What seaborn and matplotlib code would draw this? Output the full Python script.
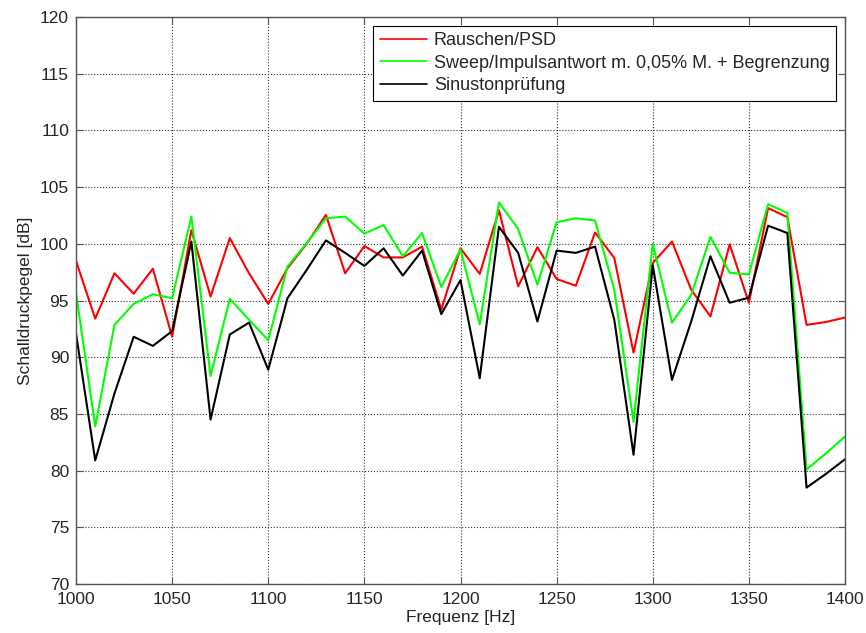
## for data
import numpy as np
import pandas as pd
## for plotting
import matplotlib
matplotlib.use("Agg")
import matplotlib.pyplot as plt
import seaborn as sns

# frequencies 1000..1400 Hz in 10 Hz steps
freq = list(range(1000, 1401, 10))

rauschen = [98.5, 93.4, 97.4, 95.6, 97.8, 91.8, 101.2, 95.35, 100.5, 97.4,
            94.7, 97.85, 100.0, 102.55, 97.4, 99.8, 98.8, 98.8, 99.75, 94.2,
            99.6, 97.35, 102.95, 96.25, 99.7, 96.9, 96.3, 101.0, 98.75, 90.4,
            98.3, 100.2, 95.95, 93.6, 99.95, 94.8, 103.15, 102.35, 92.85, 93.1,
            93.5]

sweep = [95.7, 83.9, 92.85, 94.7, 95.55, 95.2, 102.4, 88.35, 95.15, 93.3,
         91.5, 98.0, 100.05, 102.25, 102.4, 100.9, 101.65, 98.9, 100.95, 96.2,
         99.5, 92.9, 103.65, 101.3, 96.4, 101.9, 102.25, 102.05, 95.95, 84.3,
         100.0, 93.05, 95.5, 100.6, 97.45, 97.3, 103.5, 102.7, 80.1, 81.5,
         83.0]

sinus = [92.1, 80.9, 86.8, 91.8, 91.0, 92.3, 100.2, 84.5, 92.0, 93.05,
         88.9, 95.2, 97.7, 100.3, 99.2, 98.05, 99.6, 97.2, 99.4, 93.8,
         96.8, 88.15, 101.5, 99.2, 93.15, 99.4, 99.2, 99.75, 93.3, 81.4,
         98.1, 88.0, 93.15, 98.9, 94.8, 95.25, 101.6, 100.95, 78.5, 79.7,
         81.0]

labels = ["Rauschen/PSD",
          "Sweep/Impulsantwort m. 0,05% M. + Begrenzung",
          "Sinustonprüfung"]
colors = ["#ff0000", "#00ff00", "#000000"]

df = pd.DataFrame({
    "Frequenz": freq * 3,
    "Pegel": rauschen + sweep + sinus,
    "Messung": [labels[0]] * len(freq) + [labels[1]] * len(freq) + [labels[2]] * len(freq),
})

sns.set_style("ticks")
plt.rcParams['font.family'] = ['Liberation Sans', 'DejaVu Sans']

fig = plt.figure(figsize=(8.66, 6.33), dpi=100)
ax = fig.add_axes([76/866, 49/633, 769/866, 567/633])

sns.lineplot(data=df, x="Frequenz", y="Pegel", hue="Messung",
             palette=dict(zip(labels, colors)), linewidth=1.5, ax=ax)

ax.set_xlim(1000, 1400)
ax.set_ylim(70, 120)
ax.set_xticks(np.arange(1000, 1401, 50))
ax.set_yticks(np.arange(70, 121, 5))
ax.grid(True, linestyle=':', color='#333333', linewidth=0.8)
ax.tick_params(direction='in', labelsize=12.5, length=5, top=True, right=True,
               color='#555555')
ax.tick_params(axis='x', pad=6)
ax.tick_params(axis='y', pad=5)
for s in ax.spines.values():
    s.set_visible(True)
    s.set_color('#555555')
    s.set_linewidth(1.0)
ax.set_xlabel("Frequenz [Hz]", fontsize=12.5, labelpad=2)
ax.set_ylabel("Schalldruckpegel [dB]", fontsize=12.5, labelpad=5)

leg = ax.legend(loc="upper right", fontsize=13, frameon=True, fancybox=False,
                edgecolor='black', framealpha=1, borderaxespad=0.5,
                handlelength=2.6, handletextpad=0.4, labelspacing=0.3,
                borderpad=0.35)
leg.get_frame().set_linewidth(0.8)
for line in leg.get_lines():
    line.set_linewidth(1.2)

fig.savefig("out.png", dpi=100)
